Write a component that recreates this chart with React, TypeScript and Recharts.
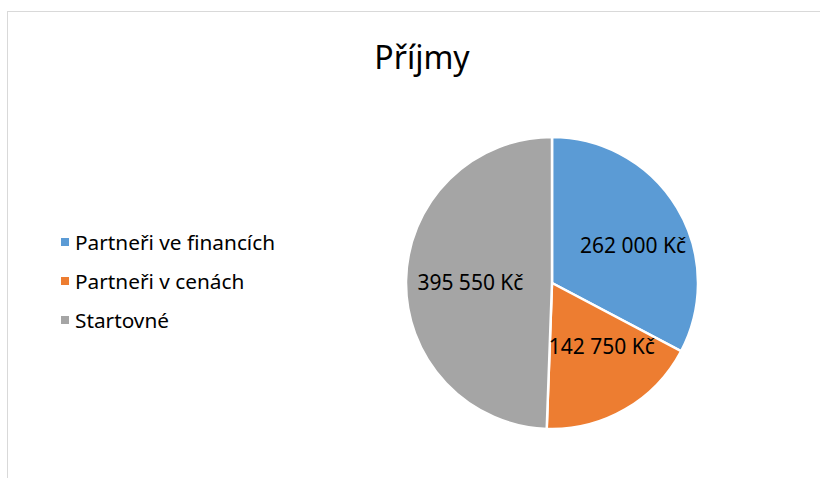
import { PieChart, Pie, Cell, Legend } from 'recharts';

const categories = ['Partneři ve financích', 'Partneři v cenách', 'Startovné'];
const amounts = [262000, 142750, 395550];
const colors = ['#5B9BD5', '#ED7D31', '#A5A5A5'];

const FONT = '"Noto Sans", "Open Sans", sans-serif';

const data = categories.map((name, i) => ({ name, value: amounts[i] }));

function formatKc(v: number): string {
  const s = String(Math.round(v)).replace(/\B(?=(\d{3})+(?!\d))/g, ' ');
  return `${s} Kč`;
}

const RAD = Math.PI / 180;

// labels sit inside the slice, a bit flattened vertically like Excel's best fit
function renderLabel(props: any) {
  const { cx, cy, midAngle, outerRadius, value } = props;
  const x = cx + 6 + outerRadius * 0.6 * Math.cos(-midAngle * RAD);
  const y = cy + outerRadius * 0.5 * Math.sin(-midAngle * RAD);
  return (
    <text
      x={x}
      y={y}
      fill="#000"
      fontSize={21}
      fontFamily={FONT}
      textAnchor="middle"
      dominantBaseline="central"
    >
      {formatKc(value)}
    </text>
  );
}

function LegendContent() {
  return (
    <div style={{ fontFamily: FONT, fontSize: 20.8, color: '#000' }}>
      {categories.map((c, i) => (
        <div key={c} style={{ display: 'flex', alignItems: 'center', height: 39 }}>
          <span
            style={{
              display: 'inline-block',
              width: 8,
              height: 8,
              background: colors[i],
              marginRight: 6,
            }}
          />
          <span>{c}</span>
        </div>
      ))}
    </div>
  );
}

export default function App() {
  return (
    <div style={{ position: 'fixed', left: 0, top: 0, width: 820, height: 478, overflow: 'hidden', background: '#fff' }}>
      <div
        style={{
          position: 'absolute',
          left: 7,
          top: 11,
          width: 900,
          height: 600,
          border: '1px solid #d9d9d9',
        }}
      />
      <div
        style={{
          position: 'absolute',
          left: 0,
          width: 844,
          top: 35,
          textAlign: 'center',
          fontFamily: FONT,
          fontSize: 32,
          color: '#000',
          lineHeight: '44px',
        }}
      >
        Příjmy
      </div>
      <div style={{ position: 'absolute', left: 0, top: 0 }}>
        <PieChart width={820} height={478} margin={{ top: 0, right: 0, bottom: 0, left: 0 }}>
          <Pie
            data={data}
            dataKey="value"
            nameKey="name"
            cx={552}
            cy={283}
            outerRadius={146}
            startAngle={90}
            endAngle={-270}
            stroke="#fff"
            strokeWidth={2.5}
            label={renderLabel}
            labelLine={false}
            isAnimationActive={false}
          >
            {data.map((d, i) => (
              <Cell key={d.name} fill={colors[i]} />
            ))}
          </Pie>
          <Legend
            content={<LegendContent />}
            layout="vertical"
            wrapperStyle={{ left: 61, top: 222, width: 300 }}
          />
        </PieChart>
      </div>
    </div>
  );
}
